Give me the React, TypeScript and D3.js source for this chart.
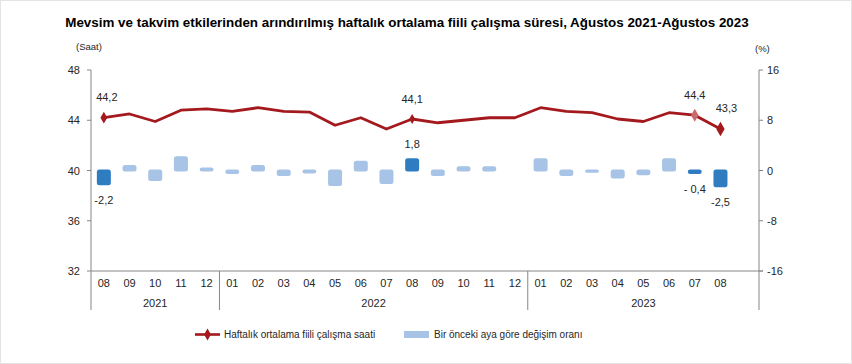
import React from "react";
import * as d3 from "d3";

const months = ["08","09","10","11","12","01","02","03","04","05","06","07","08","09","10","11","12","01","02","03","04","05","06","07","08"];
const years = [
  { label: "2021", start: 0, end: 5 },
  { label: "2022", start: 5, end: 17 },
  { label: "2023", start: 17, end: 26 },
];
const hours = [44.2,44.5,43.9,44.8,44.9,44.7,45.0,44.7,44.65,43.6,44.2,43.3,44.1,43.8,44.0,44.2,44.2,45.0,44.7,44.6,44.1,43.9,44.6,44.4,43.3];
const change = [-2.2,0.7,-1.5,2.1,0.3,-0.4,0.7,-0.7,-0.3,-2.3,1.4,-2.0,1.8,-0.7,0.5,0.5,0,1.8,-0.7,-0.2,-1.1,-0.6,1.8,-0.4,-2.5];
const highlighted = [0, 12, 23, 24];
const lineLabels = [
  { i: 0, text: "44,2", dx: 3, dy: -17 },
  { i: 12, text: "44,1", dx: 0, dy: -16 },
  { i: 23, text: "44,4", dx: 0, dy: -16 },
  { i: 24, text: "43,3", dx: 6, dy: -17 },
];
const barLabels = [
  { i: 0, text: "-2,2", dy: 11 },
  { i: 12, text: "1,8", dy: -11 },
  { i: 23, text: "- 0,4", dy: 11 },
  { i: 24, text: "-2,5", dy: 11 },
];
const leftTicks = [32, 36, 40, 44, 48];
const rightTicks = [-16, -8, 0, 8, 16];

const W = 852, H = 364;
const X0 = 91, X1 = 759, YT = 70, YB = 271;
const FONT = "'Liberation Sans', Arial, sans-serif";
const AXIS = "#868686";
const TXT = "#262626";
const RED = "#a3191d";
const DARK = "#2f7dc0";
const LIGHT = "#a7c3e6";

export default function App() {
  const x = d3.scaleBand<number>().domain(d3.range(26)).range([X0, X1]).padding(0);
  const bw = x.bandwidth();
  const cx = (i: number) => (x(i) as number) + bw / 2;
  const yL = d3.scaleLinear().domain([32, 48]).range([YB, YT]);
  const yR = d3.scaleLinear().domain([-16, 16]).range([YB, YT]);
  const line = d3.line<number>().x((_, i) => cx(i)).y((v) => yL(v));
  const diamond = (size: number) => d3.symbol().type(d3.symbolDiamond).size(size)() as string;
  const barW = 12;

  return (
    <svg width={W} height={H} style={{ display: "block", fontFamily: FONT }}>
      <style>{`body{margin:0}`}</style>
      <rect x={0.5} y={0.5} width={W - 1} height={H - 1} fill="#fff" stroke="#e4e4e4" />
      <text x={407} y={27} textAnchor="middle" fontSize={13.4} fontWeight="bold" fill="#000">
        Mevsim ve takvim etkilerinden arındırılmış haftalık ortalama fiili çalışma süresi, Ağustos 2021-Ağustos 2023
      </text>
      <text x={76} y={50} fontSize={9.5} fill={TXT}>(Saat)</text>
      <text x={755} y={52} fontSize={9.5} fill={TXT}>(%)</text>

      {/* bars */}
      {change.map((v, i) => {
        if (v === 0) return null;
        const col = highlighted.includes(i) ? DARK : LIGHT;
        const y0 = yR(Math.max(v, 0));
        const y1 = yR(Math.min(v, 0));
        return (
          <rect key={i} x={cx(i) - barW / 2} y={y0} width={barW} height={Math.max(y1 - y0, 0.5)}
            rx={1.5} fill={col} stroke={col} strokeWidth={2} strokeLinejoin="round" />
        );
      })}

      {/* line */}
      <path d={line(hours) as string} fill="none" stroke={RED} strokeWidth={2.8} strokeLinejoin="round" />
      <path transform={`translate(${cx(0)},${yL(hours[0])})`} d={diamond(40)} fill={RED} />
      <path transform={`translate(${cx(12)},${yL(hours[12])})`} d={diamond(30)} fill={RED} />
      <path transform={`translate(${cx(23)},${yL(hours[23])})`} d={diamond(50)} fill="#c96a6a" />
      <path transform={`translate(${cx(24)},${yL(hours[24])})`} d={diamond(60)} fill={RED} />

      {lineLabels.map((l) => (
        <text key={"l" + l.i} x={cx(l.i) + l.dx} y={yL(hours[l.i]) + l.dy} textAnchor="middle" fontSize={11} fill={TXT}>
          {l.text}
        </text>
      ))}
      {barLabels.map((l) => {
        const v = change[l.i];
        const yy = v < 0 ? yR(v) + l.dy + 9 : yR(v) + l.dy;
        return (
          <text key={"b" + l.i} x={cx(l.i)} y={yy} textAnchor="middle" fontSize={11} fill={TXT}>
            {l.text}
          </text>
        );
      })}

      {/* axes */}
      <line x1={X0} x2={X0} y1={YT} y2={310} stroke={AXIS} />
      <line x1={X1} x2={X1} y1={YT} y2={310} stroke={AXIS} />
      <line x1={X0} x2={X1 + 4} y1={YB} y2={YB} stroke={AXIS} />
      {leftTicks.map((t) => (
        <g key={"lt" + t}>
          <line x1={X0 - 4} x2={X0} y1={yL(t)} y2={yL(t)} stroke={AXIS} />
          <text x={X0 - 11} y={yL(t) + 4} textAnchor="end" fontSize={11} fill={TXT}>{t}</text>
        </g>
      ))}
      {rightTicks.map((t) => (
        <g key={"rt" + t}>
          <line x1={X1} x2={X1 + 4} y1={yR(t)} y2={yR(t)} stroke={AXIS} />
          <text x={X1 + 8} y={yR(t) + 4} textAnchor="start" fontSize={11} fill={TXT}>{t}</text>
        </g>
      ))}
      {months.map((m, i) => (
        <text key={"m" + i} x={cx(i)} y={287} textAnchor="middle" fontSize={11} fill={TXT}>{m}</text>
      ))}
      {years.map((g) => (
        <g key={g.label}>
          {g.start > 0 && <line x1={x(g.start) as number} x2={x(g.start) as number} y1={YB} y2={310} stroke={AXIS} />}
          <text x={((x(g.start) as number) + (g.end >= 26 ? X1 : (x(g.end) as number))) / 2} y={307}
            textAnchor="middle" fontSize={11} fill={TXT}>{g.label}</text>
        </g>
      ))}

      {/* legend */}
      <line x1={195} x2={220} y1={334.5} y2={334.5} stroke={RED} strokeWidth={2.6} />
      <path transform="translate(207.5,334.5)" d={diamond(40)} fill={RED} />
      <text x={224} y={338} fontSize={10} fill={TXT}>Haftalık ortalama fiili çalışma saati</text>
      <rect x={404} y={331} width={25} height={7} fill={LIGHT} />
      <text x={434} y={338} fontSize={10} fill={TXT}>Bir önceki aya göre değişim oranı</text>
    </svg>
  );
}
